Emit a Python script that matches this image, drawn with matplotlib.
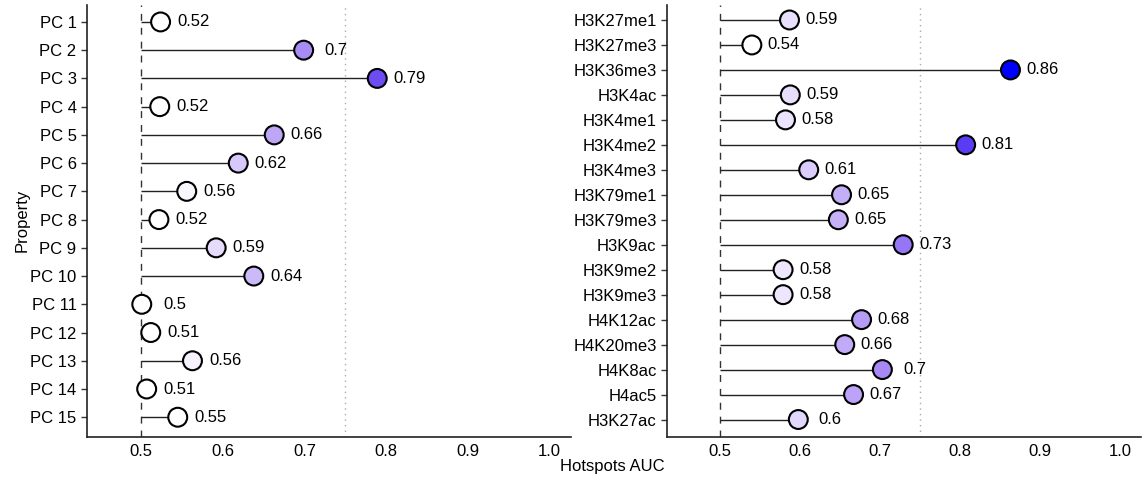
#!/usr/bin/env python3
import matplotlib
matplotlib.use('Agg')
import matplotlib.pyplot as plt
from matplotlib.colors import LinearSegmentedColormap, Normalize

plt.rcParams['font.family'] = ['Liberation Sans', 'DejaVu Sans']

pc_names = ['PC %d' % i for i in range(1, 16)]
pc_auc = [0.524, 0.699, 0.789, 0.523, 0.663, 0.619, 0.556, 0.522, 0.592,
          0.638, 0.501, 0.512, 0.563, 0.507, 0.545]

mark_names = ['H3K27me1', 'H3K27me3', 'H3K36me3', 'H3K4ac', 'H3K4me1', 'H3K4me2',
              'H3K4me3', 'H3K79me1', 'H3K79me3', 'H3K9ac', 'H3K9me2', 'H3K9me3',
              'H4K12ac', 'H4K20me3', 'H4K8ac', 'H4ac5', 'H3K27ac']
mark_auc = [0.587, 0.540, 0.863, 0.588, 0.582, 0.807, 0.611, 0.652, 0.648, 0.729,
            0.579, 0.579, 0.677, 0.656, 0.703, 0.667, 0.598]

# colour scale: white -> lavender -> purple -> blue
vmin, vmax = 0.5, 0.863
stops = [(0.5, 'white'), (0.545, 'white'), (0.7, '#a98af5'), (0.8, '#6644f2'), (0.863, '#0000ff')]
cmap = LinearSegmentedColormap.from_list(
    'auc', [((v - vmin) / (vmax - vmin), c) for v, c in stops])
norm = Normalize(vmin, vmax)
FS = 12


def lollipop(ax, names, values):
    ypos = list(range(len(names)))
    ax.axvline(0.5, color='#333333', ls=(0, (5, 5)), lw=1, zorder=1)
    ax.axvline(0.75, color='#aaaaaa', ls=(0, (1, 3)), lw=1, zorder=1)
    ax.hlines(ypos, 0.5, values, color='#222222', lw=1, zorder=2)
    ax.scatter(values, ypos, s=185, c=[cmap(norm(v)) for v in values],
               edgecolors='black', linewidths=1.5, zorder=3)
    for y, v in zip(ypos, values):
        ax.text(v + 0.04, y, '%g' % round(v, 2), ha='center', va='center', fontsize=FS)
    ax.set_yticks(ypos)
    ax.set_yticklabels(names, fontsize=FS)
    ax.set_xlim(0.434, 1.026)
    ax.set_ylim(len(names) - 1 + 0.7, -0.6)
    ax.set_xticks([0.5, 0.6, 0.7, 0.8, 0.9, 1.0])
    ax.set_xticklabels(['0.5', '0.6', '0.7', '0.8', '0.9', '1.0'], fontsize=FS)
    ax.tick_params(axis='x', length=0, pad=5)
    ax.tick_params(axis='y', length=4, width=1, color='#333333')
    for side in ('top', 'right'):
        ax.spines[side].set_visible(False)
    for side in ('left', 'bottom'):
        ax.spines[side].set_color('#222222')
        ax.spines[side].set_linewidth(1.2)


fig = plt.figure(figsize=(11.45, 4.84), dpi=100)
ax1 = fig.add_axes([87 / 1145, 1 - 437 / 484, (571 - 87) / 1145, (437 - 5) / 484])
ax2 = fig.add_axes([667 / 1145, 1 - 437 / 484, (1141 - 667) / 1145, (437 - 5) / 484])
lollipop(ax1, pc_names, pc_auc)
lollipop(ax2, mark_names, mark_auc)
fig.text(22 / 1145, 1 - 220 / 484, 'Property', rotation=90, ha='center', va='center', fontsize=FS)
fig.text(612 / 1145, 1 - 467 / 484, 'Hotspots AUC', ha='center', va='center', fontsize=FS)

fig.savefig('out.png', dpi=100)
